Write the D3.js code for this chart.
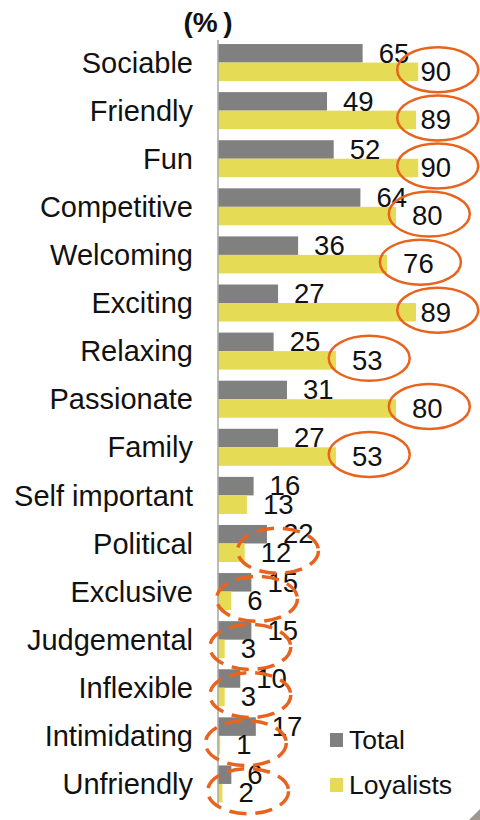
<!DOCTYPE html>
<html>
<head>
<meta charset="utf-8">
<script src="https://cdn.jsdelivr.net/npm/d3@7"></script>
<style>
  html, body { margin: 0; padding: 0; background: #fff; }
  svg { display: block; font-family: "Liberation Sans", Arial, sans-serif; }
</style>
</head>
<body>
<svg id="chart" width="480" height="820"></svg>
<script>
// Attribute ratings (%), total sample vs. loyalists
const categories = ["Sociable", "Friendly", "Fun", "Competitive", "Welcoming", "Exciting",
  "Relaxing", "Passionate", "Family", "Self important", "Political", "Exclusive",
  "Judgemental", "Inflexible", "Intimidating", "Unfriendly"];
const totalValues    = [65, 49, 52, 64, 36, 27, 25, 31, 27, 16, 22, 15, 15, 10, 17, 6];
const loyalistValues = [90, 89, 90, 80, 76, 89, 53, 80, 53, 13, 12, 6, 3, 3, 1, 2];
const seriesNames = ["Total", "Loyalists"];

// Loyalist figures circled as strengths (solid) and weaknesses (dashed)
const circledStrong = ["Sociable", "Friendly", "Fun", "Competitive", "Welcoming", "Exciting",
  "Relaxing", "Passionate", "Family"];
const circledWeak = ["Political", "Exclusive", "Judgemental", "Inflexible", "Intimidating", "Unfriendly"];

const colors = { Total: "#808080", Loyalists: "#E6DB55" };
const ringColor = "#E8641E";

const svg = d3.select("#chart");
const W = 480;

const x = d3.scaleLinear().domain([0, 100]).range([218, 440.5]);
const y = d3.scaleBand().domain(categories).range([38.5, 808]).paddingInner(0.23).paddingOuter(0.115);
const ySeries = d3.scaleBand().domain(seriesNames).range([0, y.bandwidth()]);

const rows = categories.map((c, i) => ({
  category: c,
  values: [
    { series: "Total", value: totalValues[i] },
    { series: "Loyalists", value: loyalistValues[i] }
  ]
}));

// Unit caption
svg.append("text")
  .attr("x", 208).attr("y", 32)
  .attr("text-anchor", "middle")
  .attr("font-size", 28).attr("font-weight", "bold")
  .attr("fill", "#111")
  .text("(%\u2009)");

// Category labels
svg.append("g").selectAll("text")
  .data(categories)
  .join("text")
  .attr("x", 193)
  .attr("y", d => y(d) + y.bandwidth() / 2)
  .attr("dy", "0.35em")
  .attr("text-anchor", "end")
  .attr("font-size", 29)
  .attr("fill", "#111")
  .text(d => d);

const groups = svg.append("g").selectAll("g")
  .data(rows)
  .join("g")
  .attr("transform", d => `translate(0,${y(d.category)})`);

// Bars
groups.selectAll("rect")
  .data(d => d.values)
  .join("rect")
  .attr("x", x(0))
  .attr("y", d => ySeries(d.series))
  .attr("width", d => x(d.value) - x(0))
  .attr("height", ySeries.bandwidth())
  .attr("fill", d => colors[d.series]);

// Value labels, kept inside the right edge of the plot
const rightEdge = 451;
const labels = groups.selectAll("text")
  .data(d => d.values.map(v => Object.assign({ category: d.category }, v)))
  .join("text")
  .attr("y", d => ySeries(d.series) + ySeries.bandwidth())
  .attr("font-size", 27.5)
  .attr("fill", "#111")
  .text(d => d.value);

labels.each(function (d) {
  const w = this.getComputedTextLength();
  const lx = Math.min(x(d.value) + 16, rightEdge - w);
  d.lx = lx; d.lw = w;
  d3.select(this).attr("x", lx);
});

// Axis line
svg.append("line")
  .attr("x1", x(0)).attr("x2", x(0))
  .attr("y1", 40).attr("y2", 808)
  .attr("stroke", "#A6A6A6").attr("stroke-width", 1.5);

// Rings round the loyalist figures
const ringData = [];
labels.filter(d => d.series === "Loyalists").each(function (d) {
  const style = circledStrong.includes(d.category) ? "solid"
    : circledWeak.includes(d.category) ? "dashed" : null;
  if (!style) return;
  ringData.push({
    cx: d.lx + d.lw / 2 + 2,
    cy: y(d.category) + ySeries("Loyalists") + ySeries.bandwidth() / 2 - 2,
    style
  });
});

svg.append("g").selectAll("ellipse")
  .data(ringData)
  .join("ellipse")
  .attr("cx", d => d.cx)
  .attr("cy", d => d.cy)
  .attr("rx", 40.5)
  .attr("ry", 22.5)
  .attr("fill", "none")
  .attr("stroke", ringColor)
  .attr("stroke-width", d => d.style === "dashed" ? 3.5 : 2.5)
  .attr("stroke-dasharray", d => d.style === "dashed" ? "17 9" : null);

// Legend
const legend = svg.append("g").selectAll("g")
  .data(seriesNames)
  .join("g")
  .attr("transform", (d, i) => `translate(330,${733 + i * 45})`);
legend.append("rect")
  .attr("width", 13).attr("height", 14)
  .attr("fill", d => colors[d]);
legend.append("text")
  .attr("x", 19).attr("y", 16)
  .attr("font-size", 26.5)
  .attr("fill", "#111")
  .text(d => d);

// Page corner
svg.append("path")
  .attr("d", `M${W},809 L${W},820 L469,820 Z`)
  .attr("fill", "#9E9890");
</script>
</body>
</html>
